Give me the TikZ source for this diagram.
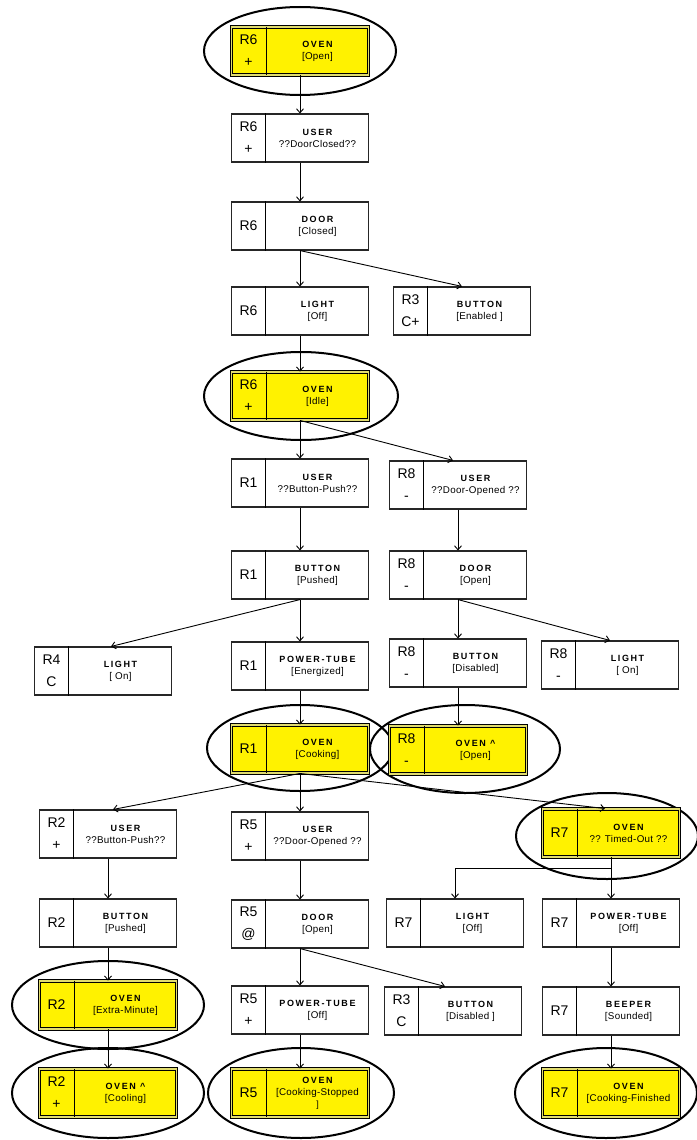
\documentclass[tikz,border=0pt]{standalone}
\usepackage{fontspec}
\setmainfont{Liberation Sans}
\newfontfamily\namefont[LetterSpace=18]{Liberation Sans}
\newfontfamily\statefont[LetterSpace=3]{Liberation Sans}
\usetikzlibrary{arrows.meta,shapes.geometric}

\definecolor{gapyellow}{RGB}{225,220,110}

\tikzset{
  cell/.style={rectangle, draw=black!85, line width=1.1pt, fill=white,
    minimum width=137pt, minimum height=48pt, inner sep=0pt},
  hot/.style={cell, fill=yellow, draw=black, line width=0.9pt,
    double=gapyellow, double distance=1.6pt},
  ring/.style={ellipse, draw=black, line width=2pt, inner sep=0pt},
  flow/.style={draw=black, line width=0.9pt,
    -{Straight Barb[length=4pt,width=7pt,line width=0.9pt]}},
  rulelab/.style={font=\fontsize{14}{22}\selectfont, align=center, inner sep=0pt},
  bodylab/.style={font=\fontsize{9}{12}\selectfont, align=center, inner sep=0pt},
}

% #1 name, #2 style, #3 centre, #4 rule cell, #5 object, #6 state
\newcommand\statebox[6]{%
  \node[#2] (#1) at (#3) {};
  \draw[line width=1pt] ([xshift=35pt]#1.north west) -- ([xshift=35pt]#1.south west);
  \node[rulelab] (#1-r) at ([xshift=17.5pt]#1.west) {#4};
  \node[bodylab] (#1-t) at ([xshift=17.5pt]#1.center)
    {\namefont\bfseries #5\\\mdseries\statefont\fontsize{9.8}{12}\selectfont #6};
}

\begin{document}
\begin{tikzpicture}[x=1pt,y=-1pt]
\fill[white] (0,0) rectangle (696,1140);
\useasboundingbox (0,0) rectangle (696,1140);

% highlighted states
\node[ring, minimum width=192pt, minimum height=88pt] (a-ring)  at (300,51)   {};
\node[ring, minimum width=194pt, minimum height=88pt] (e-ring)  at (301,396)  {};
\node[ring, minimum width=186pt, minimum height=86pt] (i1-ring) at (300,748)  {};
\node[ring, minimum width=190pt, minimum height=88pt] (i2-ring) at (465,749)  {};
\node[ring, minimum width=182pt, minimum height=86pt] (j3-ring) at (607,836)  {};
\node[ring, minimum width=192pt, minimum height=88pt] (l1-ring) at (108,1005) {};
\node[ring, minimum width=192pt, minimum height=90pt] (m1-ring) at (108,1093) {};
\node[ring, minimum width=186pt, minimum height=90pt] (m2-ring) at (301,1093) {};
\node[ring, minimum width=182pt, minimum height=90pt] (m3-ring) at (606,1093) {};

% states
\statebox{a}{hot}{300,51}{R6\\+}{OVEN}{[Open]}
\statebox{b}{cell}{300,138}{R6\\+}{USER}{??DoorClosed??}
\statebox{c}{cell}{300,226}{R6}{DOOR}{[Closed]}
\statebox{d1}{cell}{300,311}{R6}{LIGHT}{[Off]}
\statebox{d2}{cell}{462,311}{R3\\C+}{BUTTON}{[Enabled ]}
\statebox{e}{hot}{300,396}{R6\\+}{OVEN}{[Idle]}
\statebox{f1}{cell}{300,483}{R1}{USER}{??Button-Push??}
\statebox{f2}{cell}{458,485}{R8\\-}{USER}{??Door-Opened ??}
\statebox{g1}{cell}{300,575}{R1}{BUTTON}{[Pushed]}
\statebox{g2}{cell}{458,575}{R8\\-}{DOOR}{[Open]}
\statebox{h1}{cell}{103,671}{R4\\C}{LIGHT}{[ On]}
\statebox{h2}{cell}{300,666}{R1}{POWER-TUBE}{[Energized]}
\statebox{h3}{cell}{458,663}{R8\\-}{BUTTON}{[Disabled]}
\statebox{h4}{cell}{610,665}{R8\\-}{LIGHT}{[ On]}
\statebox{i1}{hot}{300,749}{R1}{OVEN}{[Cooking]}
\statebox{i2}{hot}{458,750}{R8\\-}{OVEN \textasciicircum}{[Open]}
\statebox{j1}{cell}{108,834}{R2\\+}{USER}{??Button-Push??}
\statebox{j2}{cell}{300,836}{R5\\+}{USER}{??Door-Opened ??}
\statebox{j3}{hot}{611,833}{R7}{OVEN}{?? Timed-Out ??}
\statebox{k1}{cell}{108,923}{R2}{BUTTON}{[Pushed]}
\statebox{k2}{cell}{300,924}{R5\\@}{DOOR}{[Open]}
\statebox{k3}{cell}{455,923}{R7}{LIGHT}{[Off]}
\statebox{k4}{cell}{611,923}{R7}{POWER-TUBE}{[Off]}
\statebox{l1}{hot}{108,1005}{R2}{OVEN}{[Extra-Minute]}
\statebox{l2}{cell}{300,1010}{R5\\+}{POWER-TUBE}{[Off]}
\statebox{l3}{cell}{453,1011}{R3\\C}{BUTTON}{[Disabled ]}
\statebox{l4}{cell}{611,1011}{R7}{BEEPER}{[Sounded]}
\statebox{m1}{hot}{108,1093}{R2\\+}{OVEN \textasciicircum}{[Cooling]}
\statebox{m2}{hot}{300,1093}{R5}{OVEN}{[Cooking-Stopped\\]}
\statebox{m3}{hot}{611,1093}{R7}{OVEN}{[Cooking-Finished}

% transitions
\draw[flow] (a.south) -- (b.north);
\draw[flow] (b.south) -- (c.north);
\draw[flow] (c.south) -- (d1.north);
\draw[flow] (c.south) -- (d2.north);
\draw[flow] (d1.south) -- (e.north);
\draw[flow] (e.south) -- (f1.north);
\draw[flow] (e.south) -- ([xshift=-5pt]f2.north);
\draw[flow] (f1.south) -- (g1.north);
\draw[flow] (f2.south) -- (g2.north);
\draw[flow] (g1.south) -- ([xshift=8pt]h1.north);
\draw[flow] (g1.south) -- (h2.north);
\draw[flow] (g2.south) -- (h3.north);
\draw[flow] (g2.south) -- (h4.north);
\draw[flow] (h2.south) -- (i1.north);
\draw[flow] (h3.south) -- (i2.north);
\draw[flow] (i1.south) -- ([xshift=5pt]j1.north);
\draw[flow] (i1.south) -- (j2.north);
\draw[flow] (i1.south) -- ([xshift=-6pt]j3.north);
\draw[flow] (j1.south) -- (k1.north);
\draw[flow] (j2.south) -- (k2.north);
\draw[flow] (j3.south) -- (k4.north);
\draw[flow] (j3.south) -- ++(0,11) -| (k3.north);
\draw[flow] (k1.south) -- (l1.north);
\draw[flow] (k2.south) -- (l2.north);
\draw[flow] (k2.south) -- ([xshift=-8pt]l3.north);
\draw[flow] (k4.south) -- (l4.north);
\draw[flow] (l1.south) -- (m1.north);
\draw[flow] (l2.south) -- (m2.north);
\draw[flow] (l4.south) -- (m3.north);
\end{tikzpicture}
\end{document}
